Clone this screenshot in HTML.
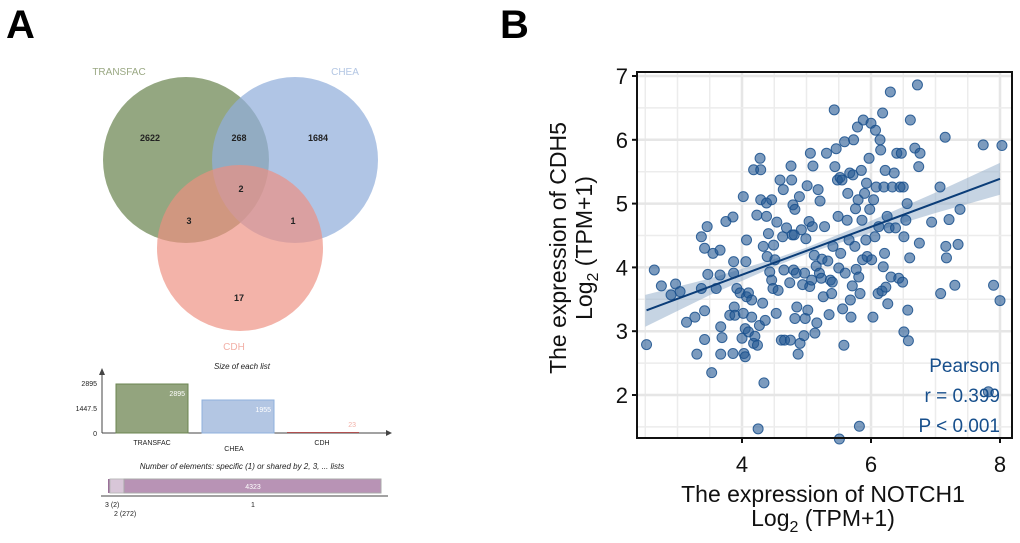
<!DOCTYPE html>
<html><head><meta charset="utf-8"><style>
body{margin:0;background:#fff;width:1020px;height:538px;overflow:hidden;font-family:"Liberation Sans",Arial,sans-serif}
svg text{font-family:"Liberation Sans",Arial,sans-serif}
</style></head><body>
<svg id="fig" width="1020" height="538" viewBox="0 0 1020 538">
<text x="6" y="38" font-size="40" font-weight="bold">A</text>
<text x="500" y="38" font-size="40" font-weight="bold">B</text>
<g>
<circle cx="186" cy="160" r="83" fill="#6b8550" fill-opacity="0.72"/>
<circle cx="295" cy="160" r="83" fill="#92afdb" fill-opacity="0.72"/>
<circle cx="240" cy="248" r="83" fill="#ee8f80" fill-opacity="0.68"/>
<text x="119" y="75" font-size="10" fill="#9aa883" text-anchor="middle">TRANSFAC</text>
<text x="345" y="75" font-size="10" fill="#b3c6e3" text-anchor="middle">CHEA</text>
<text x="234" y="350" font-size="10" fill="#f2b0a7" text-anchor="middle">CDH</text>
<g font-size="9" font-weight="bold" fill="#222" text-anchor="middle">
<text x="150" y="141">2622</text>
<text x="239" y="141">268</text>
<text x="318" y="141">1684</text>
<text x="241" y="192">2</text>
<text x="189" y="224">3</text>
<text x="293" y="224">1</text>
<text x="239" y="301">17</text>
</g></g>
<g font-size="7" fill="#222">
<text x="242" y="369" font-style="italic" font-size="8" text-anchor="middle">Size of each list</text>
<line x1="102" y1="433" x2="386" y2="433" stroke="#444"/>
<polygon points="386,430 392,433 386,436" fill="#444"/>
<line x1="102" y1="433" x2="102" y2="373" stroke="#444"/>
<polygon points="99,375 102,368 105,375" fill="#444"/>
<text x="97" y="386" text-anchor="end">2895</text>
<text x="97" y="411" text-anchor="end">1447.5</text>
<text x="97" y="436" text-anchor="end">0</text>
<rect x="116" y="384" width="72" height="49" fill="#93a47e" stroke="#6b8550"/>
<rect x="202" y="400" width="72" height="33" fill="#b3c6e3" stroke="#8fb0dd"/>
<rect x="287" y="432" width="72" height="1" fill="#b05050"/>
<text x="185" y="396" fill="#fff" text-anchor="end">2895</text>
<text x="271" y="412" fill="#fff" text-anchor="end">1955</text>
<text x="356" y="427" fill="#f2b0a7" text-anchor="end">23</text>
<text x="152" y="445" text-anchor="middle">TRANSFAC</text>
<text x="234" y="451" text-anchor="middle">CHEA</text>
<text x="322" y="445" text-anchor="middle">CDH</text>
</g>
<g font-size="7" fill="#222">
<text x="242" y="469" font-style="italic" font-size="8" text-anchor="middle">Number of elements: specific (1) or shared by 2, 3, ... lists</text>
<rect x="108" y="479" width="2" height="14" fill="#9a7098"/>
<rect x="110" y="479" width="14" height="14" fill="#d8c6d8" stroke="#bbb"/>
<rect x="124" y="479" width="257" height="14" fill="#b893b5" stroke="#aaa"/>
<text x="253" y="489" fill="#fff" text-anchor="middle">4323</text>
<line x1="101" y1="496" x2="388" y2="496" stroke="#444"/>
<text x="105" y="507">3 (2)</text>
<text x="114" y="516">2 (272)</text>
<text x="253" y="507" text-anchor="middle">1</text>
</g>
<g id="scatter"></g>
</svg>
<script>
const xs=[2.52,2.64,2.75,2.90,2.97,3.04,3.14,3.27,3.30,3.37,3.37,3.42,3.42,3.42,3.46,3.47,3.53,3.55,3.60,3.66,3.66,3.67,3.67,3.69,3.75,3.81,3.86,3.86,3.87,3.87,3.88,3.89,3.92,3.97,4.00,4.02,4.02,4.03,4.05,4.05,4.06,4.07,4.07,4.10,4.10,4.15,4.15,4.18,4.18,4.20,4.23,4.24,4.25,4.27,4.28,4.29,4.29,4.32,4.33,4.34,4.36,4.38,4.38,4.39,4.41,4.43,4.46,4.46,4.48,4.49,4.51,4.53,4.54,4.56,4.59,4.61,4.63,4.64,4.65,4.66,4.69,4.74,4.75,4.76,4.77,4.78,4.79,4.80,4.81,4.82,4.82,4.84,4.85,4.87,4.89,4.90,4.92,4.94,4.96,4.97,4.98,4.99,5.01,5.02,5.04,5.05,5.06,5.08,5.09,5.10,5.12,5.13,5.15,5.16,5.18,5.20,5.21,5.23,5.24,5.26,5.28,5.31,5.33,5.35,5.37,5.39,5.40,5.41,5.43,5.44,5.46,5.48,5.49,5.50,5.51,5.52,5.53,5.55,5.56,5.58,5.59,5.60,5.63,5.64,5.66,5.67,5.68,5.69,5.71,5.72,5.73,5.75,5.76,5.77,5.79,5.80,5.81,5.82,5.83,5.85,5.86,5.87,5.88,5.90,5.92,5.93,5.94,5.97,5.98,6.00,6.01,6.03,6.04,6.06,6.07,6.08,6.11,6.12,6.14,6.15,6.17,6.18,6.19,6.20,6.21,6.22,6.23,6.25,6.26,6.28,6.30,6.31,6.33,6.36,6.38,6.40,6.43,6.45,6.47,6.49,6.50,6.51,6.51,6.54,6.56,6.57,6.58,6.60,6.61,6.68,6.72,6.74,6.75,6.76,6.94,7.07,7.08,7.15,7.17,7.16,7.21,7.30,7.35,7.38,7.74,7.82,7.90,8.00,8.03];
const ys=[2.79,3.96,3.71,3.57,3.74,3.62,3.14,3.22,2.64,4.48,3.67,4.30,3.32,2.87,4.64,3.89,2.35,4.22,3.67,4.27,3.88,3.07,2.64,2.90,4.72,3.25,2.65,4.79,4.09,3.91,3.38,3.25,3.67,3.60,2.89,5.11,3.28,2.65,3.04,2.60,4.09,3.54,4.43,2.99,3.60,3.49,3.22,2.81,5.53,2.92,4.82,2.78,1.47,3.09,5.71,5.53,5.06,3.44,4.33,2.19,3.17,4.80,5.01,4.17,4.53,3.93,5.06,3.80,3.67,4.35,4.12,3.28,4.71,3.64,5.37,2.86,4.48,5.22,3.96,2.86,4.62,3.76,2.86,5.59,5.37,4.51,4.98,3.96,4.51,3.20,4.91,3.91,3.38,2.64,5.11,2.81,4.59,3.73,2.93,3.91,3.20,4.45,5.28,3.33,4.72,3.70,5.79,3.80,4.64,5.59,4.19,2.97,4.02,3.13,5.22,3.91,5.04,3.83,4.13,3.54,4.64,5.79,4.10,3.26,3.80,3.59,3.77,4.33,6.47,5.58,5.86,5.37,4.80,3.99,1.31,5.41,4.22,5.37,3.35,2.78,5.97,3.91,4.74,5.16,4.43,5.48,3.49,3.22,3.71,5.45,6.00,4.33,4.92,3.97,6.20,5.06,3.85,1.51,3.59,5.52,4.74,4.12,6.31,5.16,4.43,5.32,4.17,5.71,4.91,6.26,4.12,3.22,5.06,4.48,6.15,5.26,3.59,4.64,6.00,5.84,3.63,6.42,4.01,5.26,4.22,5.52,3.69,4.80,3.43,4.62,6.75,3.85,5.26,5.48,4.62,5.79,3.83,5.26,5.79,3.77,5.26,4.48,2.99,4.74,5.00,3.33,2.85,4.15,6.31,5.87,6.86,5.58,4.38,5.79,4.71,5.26,3.59,6.04,4.15,4.33,4.75,3.72,4.36,4.91,5.92,2.05,3.72,3.48,5.91,4.36,4.36,4.67,4.01,4.35,5.19,2.87,4.01];
const xTicks=[4,6,8];
const yTicks=[2,3,4,5,6,7];
const pearsonLines=["Pearson","r = 0.399","P < 0.001"];
const fitIntercept=2.38, fitSlope=0.376;
const ciHalfWidth=[0.25,0.13,0.06,0.05,0.08,0.16,0.25];
const ciX=[2.5,3.5,4.5,5.0,5.8,7.0,8.0];

const NS="http://www.w3.org/2000/svg";
const g=document.getElementById('scatter');
const L=637,R=1012,T=72,B=438;
const sx=v=>742+(v-4)*64.5;
const sy=v=>76+(7-v)*63.8;
function mk(tag,at,parent){const e=document.createElementNS(NS,tag);for(const k in at)e.setAttribute(k,at[k]);(parent||g).appendChild(e);return e;}
const bg=mk('rect',{x:L,y:T,width:R-L,height:B-T,fill:'#fff'});


for(let v=2.5;v<=8.5;v+=0.5){const x=sx(v);if(x<L||x>R)continue;const major=xTicks.includes(v);
const ln=mk('line',{x1:x,x2:x,y1:T,y2:B,stroke:major?'#e6e6e6':'#ececec','stroke-width':major?2.5:1.5});

}
for(let v=1.5;v<=7.5;v+=0.5){const y=sy(v);if(y<T||y>B)continue;const major=yTicks.includes(v);
const ln=mk('line',{x1:L,x2:R,y1:y,y2:y,stroke:major?'#e6e6e6':'#ececec','stroke-width':major?2.5:1.5});

}
const bandTop=[],bandBot=[];
ciX.forEach((x,i)=>{const m=fitIntercept+fitSlope*x;bandTop.push(sx(x)+','+sy(m+ciHalfWidth[i]));bandBot.unshift(sx(x)+','+sy(m-ciHalfWidth[i]));});
const band=mk('polygon',{points:bandTop.concat(bandBot).join(' '),fill:'#8ea9c8','fill-opacity':0.5});


const nPts=Math.min(xs.length,ys.length);
for(let i=0;i<nPts;i++){const c=mk('circle',{cx:sx(xs[i]),cy:sy(ys[i]),r:5,fill:'#245892','fill-opacity':0.6,stroke:'#174f8c','stroke-opacity':0.85,'stroke-width':1});

}
const fit=mk('line',{x1:sx(2.52),y1:sy(fitIntercept+fitSlope*2.52),x2:sx(8),y2:sy(fitIntercept+fitSlope*8),stroke:'#0b3d78','stroke-width':2});


const fr=mk('rect',{x:L,y:T,width:R-L,height:B-T,fill:'none',stroke:'#111','stroke-width':2});


xTicks.forEach(v=>{mk('line',{x1:sx(v),x2:sx(v),y1:B,y2:B+5,stroke:'#111','stroke-width':2});
const t=mk('text',{x:sx(v),y:B+34,'font-size':22,'text-anchor':'middle',fill:'#111'});t.textContent=v;

});
yTicks.forEach(v=>{mk('line',{x1:L-5,x2:L,y1:sy(v),y2:sy(v),stroke:'#111','stroke-width':2});
const t=mk('text',{x:L-9,y:sy(v)+8,'font-size':22,'text-anchor':'end',fill:'#111'});t.textContent=v;

});
pearsonLines.forEach((s,i)=>{const t=mk('text',{x:1000,y:372+i*30,'font-size':19,'text-anchor':'end',fill:'#174f8c'});t.textContent=s;

});
function logLabel(el){const a=document.createTextNode('Log');el.appendChild(a);
const s=mk('tspan',{'font-size':16,dy:6},el);s.textContent='2';
const r=mk('tspan',{dy:-6},el);r.textContent=' (TPM+1)';}
const xt=mk('text',{x:823,y:502,'font-size':23,'text-anchor':'middle',fill:'#111'});xt.textContent='The expression of NOTCH1';


const xt2=mk('text',{x:823,y:526,'font-size':23,'text-anchor':'middle',fill:'#111'});logLabel(xt2);


const yt=mk('text',{x:0,y:0,'font-size':23,'text-anchor':'middle',fill:'#111',transform:'translate(566,248) rotate(-90)'});yt.textContent='The expression of CDH5';


const yt2=mk('text',{x:0,y:0,'font-size':23,'text-anchor':'middle',fill:'#111',transform:'translate(592,248) rotate(-90)'});logLabel(yt2);


</script>
</body></html>
